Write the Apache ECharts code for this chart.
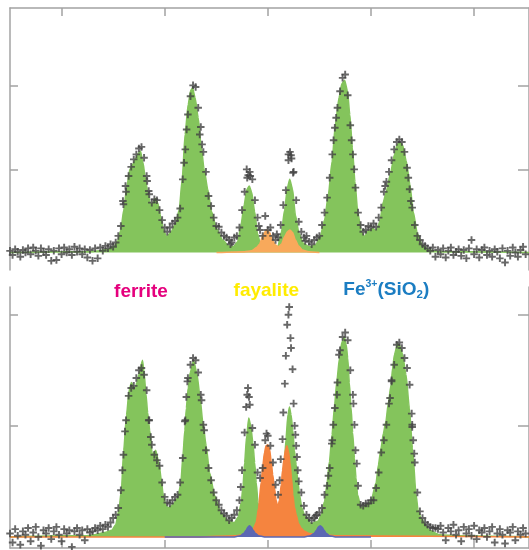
<!DOCTYPE html>
<html><head><meta charset="utf-8">
<script src="https://cdn.jsdelivr.net/npm/echarts@6/dist/echarts.min.js"></script>
<style>html,body{margin:0;padding:0;background:#fff}#c{width:529px;height:550px}</style>
</head><body><div id="c"></div>
<script>
// velocity channel grid (mm/s) of the measured points
const chStart = -10, chStep = 0.1;
const xTicks = [-8, -4, 0, 4, 8];
const yTicks = [1, 2];
const labelTexts = ['ferrite', 'fayalite', 'Fe3+(SiO2)'];

// upper spectrum: measured points (absorption, %)
const topPoints = [
 0.02,-0.03,0.04,0.01,-0.05,0.03,0.00,0.05,-0.02,0.06,
 0.02,-0.04,0.05,0.01,-0.03,0.04,-0.10,0.02,-0.09,0.05,
 -0.02,0.06,0.00,0.04,-0.03,0.07,0.01,0.05,-0.02,0.04,
 -0.06,0.03,-0.10,0.05,-0.07,0.06,0.02,0.08,0.05,0.10,
 0.07,
 0.12,0.20,0.32,0.58,0.73,0.92,1.03,1.12,1.18,1.25,
 1.27,1.14,0.92,0.70,0.60,0.64,0.63,0.51,0.39,0.30,
 0.25,0.30,0.35,0.38,0.42,0.53,0.88,1.24,1.66,1.88,
 2.01,1.99,1.74,1.51,1.21,0.97,0.68,0.56,0.42,0.32,
 0.31,0.24,0.20,0.18,0.15,0.12,0.18,0.20,0.30,0.51,
 0.73,0.90,0.97,0.88,0.63,0.42,0.27,0.20,0.44,0.27,
 0.30,0.20,0.15,0.18,0.33,0.57,0.75,1.11,1.17,0.97,
 0.63,0.37,0.25,0.18,0.20,0.13,0.10,0.15,0.18,0.20,
 0.33,0.48,0.66,0.90,1.18,1.50,1.74,1.94,2.10,2.14,
 1.89,1.53,1.18,0.78,0.48,0.33,0.25,0.27,0.32,0.30,
 0.35,0.31,0.42,0.54,0.73,0.85,0.97,1.11,1.24,1.33,
 1.36,1.33,1.21,1.02,0.76,0.54,0.33,0.20,0.15,0.10,
 0.08,0.05,0.02,0.06,-0.05,0.03,-0.02,0.05,-0.06,0.02,
 0.06,-0.03,0.01,0.04,-0.04,0.03,-0.07,0.05,0.15,-0.02,
 0.04,-0.06,0.03,0.06,-0.03,0.02,-0.05,0.04,0.01,-0.07,
 0.05,-0.12,0.02,-0.04,0.06,0.00,-0.05,0.03,0.07,-0.02
];
const topExtraPoints = [[-5.62,0.62],[-5.52,0.80],[-4.68,0.86],[-4.62,0.74],[-3.25,1.08],[-3.15,1.48],[-2.64,1.42],[-2.55,1.30],[-0.82,1.00],[-0.76,0.93],[-0.68,0.92],[0.80,1.18],[0.86,1.21],[0.92,1.13],[0.98,0.96],[2.55,1.35],[2.65,1.62],[3.25,1.35],[3.35,1.00],[4.55,0.80],[5.45,0.90],[5.55,0.62],[-0.35,0.32],[0.35,0.22],[1.45,0.14],[-1.45,0.10]];
const topFerrite = [[-10.00,0.00],[-8.06,0.01],[-6.90,0.01],[-6.52,0.02],[-6.21,0.04],[-5.97,0.07],[-5.82,0.14],[-5.70,0.27],[-5.59,0.51],[-5.47,0.79],[-5.35,1.00],[-5.24,1.06],[-5.12,1.13],[-5.03,1.19],[-4.94,1.22],[-4.85,1.09],[-4.75,0.90],[-4.66,0.72],[-4.54,0.57],[-4.46,0.60],[-4.37,0.65],[-4.27,0.60],[-4.15,0.42],[-4.04,0.26],[-3.92,0.19],[-3.77,0.24],[-3.57,0.35],[-3.44,0.51],[-3.32,0.88],[-3.21,1.42],[-3.09,1.78],[-2.99,1.95],[-2.92,1.98],[-2.82,1.86],[-2.70,1.62],[-2.59,1.29],[-2.47,1.00],[-2.33,0.76],[-2.18,0.49],[-1.99,0.29],[-1.75,0.15],[-1.52,0.08],[-1.33,0.07],[-1.17,0.13],[-1.04,0.33],[-0.92,0.57],[-0.81,0.76],[-0.72,0.80],[-0.63,0.73],[-0.51,0.49],[-0.40,0.23],[-0.28,0.09],[-0.13,0.05],[0.14,0.05],[0.38,0.06],[0.53,0.25],[0.65,0.51],[0.76,0.78],[0.85,0.88],[0.96,0.76],[1.07,0.45],[1.21,0.23],[1.38,0.11],[1.61,0.07],[1.85,0.09],[2.04,0.20],[2.20,0.39],[2.35,0.70],[2.49,1.09],[2.62,1.54],[2.76,1.86],[2.87,2.03],[2.98,2.07],[3.09,1.94],[3.18,1.66],[3.28,1.26],[3.38,0.85],[3.49,0.48],[3.63,0.25],[3.74,0.19],[3.90,0.26],[4.05,0.29],[4.21,0.26],[4.34,0.37],[4.48,0.61],[4.60,0.74],[4.75,0.94],[4.91,1.18],[5.02,1.30],[5.12,1.33],[5.23,1.29],[5.37,1.10],[5.51,0.82],[5.64,0.49],[5.80,0.23],[5.99,0.09],[6.26,0.03],[6.65,0.01],[7.81,0.01],[10.13,0.00]];
const topFayalite = [[-1.99,0.00],[-0.90,0.01],[-0.63,0.02],[-0.44,0.06],[-0.32,0.10],[-0.21,0.19],[-0.11,0.25],[-0.03,0.27],[0.07,0.24],[0.18,0.15],[0.30,0.09],[0.41,0.07],[0.53,0.10],[0.65,0.19],[0.76,0.25],[0.86,0.27],[0.96,0.24],[1.07,0.15],[1.19,0.08],[1.34,0.03],[1.58,0.01],[2.00,0.00]];

// lower spectrum
const botPoints = [
 0.03,-0.05,0.07,0.01,-0.07,0.05,0.02,0.08,-0.04,0.04,
 0.09,0.00,-0.08,0.06,0.03,0.08,-0.02,0.05,0.09,0.02,
 -0.04,0.07,0.03,0.06,-0.09,0.05,0.08,0.02,0.06,-0.03,
 0.07,0.04,0.05,0.08,0.06,0.10,0.07,0.11,0.09,0.13,
 0.17,
 0.20,0.26,0.42,0.74,1.05,1.27,1.34,1.36,1.43,1.50,
 1.52,1.46,1.32,1.05,0.83,0.74,0.69,0.64,0.49,0.36,
 0.31,0.30,0.33,0.36,0.38,0.49,0.71,1.05,1.43,1.55,
 1.61,1.59,1.48,1.28,1.01,0.78,0.62,0.51,0.40,0.33,
 0.29,0.24,0.21,0.19,0.15,0.17,0.20,0.24,0.33,0.60,
 0.94,1.28,1.19,0.98,0.83,0.58,0.53,0.62,0.87,0.91,
 0.82,0.67,0.47,0.38,0.70,1.12,1.63,2.00,1.70,1.20,
 0.82,0.50,0.40,0.28,0.20,0.17,0.15,0.17,0.20,0.22,
 0.26,0.38,0.46,0.62,0.87,1.16,1.39,1.68,1.80,1.84,
 1.77,1.50,1.28,0.78,0.46,0.29,0.28,0.30,0.30,0.33,
 0.33,0.44,0.58,0.76,0.87,1.01,1.20,1.41,1.55,1.73,
 1.75,1.70,1.61,1.52,1.37,1.01,0.67,0.40,0.23,0.17,
 0.13,0.11,0.09,0.08,0.08,0.07,0.10,0.04,-0.03,0.08,
 0.05,0.11,0.02,0.06,-0.04,0.09,0.03,0.07,0.01,0.10,
 -0.02,0.06,0.04,0.08,0.00,0.05,0.09,-0.05,0.03,0.07,
 0.02,-0.06,0.06,0.04,0.09,-0.03,0.05,0.02,0.08,0.03
];
const botExtraPoints = [[-5.54,0.95],[-5.64,0.60],[-4.62,1.05],[-4.54,0.90],[-3.22,1.04],[-3.16,1.26],[-3.12,1.40],[-2.57,1.23],[-2.47,0.96],[-0.84,1.17],[-0.77,1.34],[-0.73,1.26],[-0.05,0.93],[0.46,0.51],[0.57,0.88],[0.66,1.38],[0.75,1.91],[0.83,2.07],[0.88,1.79],[0.96,1.51],[1.04,1.00],[1.07,0.92],[1.13,0.72],[1.16,0.60],[2.48,0.84],[2.54,1.01],[2.68,1.28],[2.76,1.64],[3.32,1.20],[3.36,1.01],[3.45,0.66],[4.74,1.25],[4.80,1.40],[5.58,1.11],[5.60,0.99],[5.64,0.87],[5.68,0.75],[-1.05,0.45],[1.85,0.19],[2.35,0.55]];
const botFerrite = [[-10.00,0.00],[-8.06,0.01],[-7.10,0.01],[-6.71,0.02],[-6.32,0.04],[-6.05,0.06],[-5.90,0.11],[-5.78,0.24],[-5.68,0.42],[-5.59,0.78],[-5.48,1.10],[-5.38,1.32],[-5.29,1.39],[-5.22,1.36],[-5.16,1.32],[-5.08,1.39],[-4.99,1.47],[-4.86,1.59],[-4.79,1.46],[-4.73,1.29],[-4.66,1.12],[-4.58,0.96],[-4.48,0.74],[-4.35,0.78],[-4.22,0.66],[-4.13,0.51],[-4.06,0.38],[-3.96,0.29],[-3.87,0.26],[-3.69,0.29],[-3.50,0.35],[-3.38,0.47],[-3.29,0.74],[-3.22,0.96],[-3.16,1.16],[-3.09,1.34],[-3.01,1.48],[-2.88,1.59],[-2.75,1.47],[-2.64,1.28],[-2.52,1.03],[-2.39,0.82],[-2.26,0.58],[-2.06,0.37],[-1.81,0.21],[-1.52,0.14],[-1.29,0.13],[-1.15,0.18],[-1.03,0.31],[-0.96,0.47],[-0.90,0.67],[-0.82,0.91],[-0.74,1.07],[-0.67,1.01],[-0.58,0.85],[-0.51,0.67],[-0.45,0.49],[-0.38,0.31],[-0.32,0.20],[-0.22,0.10],[-0.09,0.06],[0.26,0.05],[0.34,0.07],[0.45,0.17],[0.55,0.35],[0.63,0.60],[0.70,0.87],[0.78,1.10],[0.84,1.17],[0.90,1.10],[0.97,0.96],[1.03,0.78],[1.10,0.65],[1.17,0.49],[1.23,0.38],[1.32,0.26],[1.42,0.20],[1.68,0.12],[1.94,0.14],[2.08,0.20],[2.20,0.32],[2.29,0.47],[2.39,0.68],[2.49,0.92],[2.58,1.16],[2.68,1.41],[2.78,1.61],[2.87,1.75],[2.97,1.80],[3.04,1.73],[3.10,1.61],[3.16,1.39],[3.23,1.16],[3.29,0.94],[3.36,0.71],[3.42,0.53],[3.48,0.38],[3.62,0.26],[3.81,0.29],[4.00,0.32],[4.20,0.49],[4.29,0.65],[4.39,0.80],[4.48,0.93],[4.58,1.04],[4.67,1.20],[4.78,1.37],[4.84,1.52],[4.91,1.64],[5.03,1.74],[5.12,1.72],[5.23,1.64],[5.36,1.46],[5.49,1.16],[5.61,0.80],[5.75,0.38],[5.83,0.24],[5.94,0.17],[6.11,0.11],[6.26,0.06],[6.65,0.02],[7.42,0.01],[10.13,0.00]];
const botFayalite = [[-10.00,0.00],[-2.64,0.00],[-1.29,0.01],[-0.90,0.02],[-0.71,0.04],[-0.58,0.06],[-0.45,0.13],[-0.36,0.26],[-0.26,0.49],[-0.19,0.65],[-0.13,0.76],[-0.07,0.82],[0.00,0.83],[0.07,0.79],[0.13,0.68],[0.19,0.56],[0.26,0.44],[0.32,0.33],[0.39,0.27],[0.45,0.33],[0.52,0.47],[0.57,0.60],[0.63,0.71],[0.69,0.79],[0.74,0.82],[0.80,0.77],[0.86,0.67],[0.92,0.53],[0.97,0.38],[1.03,0.27],[1.10,0.20],[1.19,0.12],[1.29,0.08],[1.42,0.05],[1.61,0.03],[2.00,0.02],[2.77,0.01],[10.13,0.00]];
const botFe3 = [[-4.00,0.00],[-1.29,0.00],[-1.06,0.01],[-0.94,0.03],[-0.84,0.06],[-0.77,0.09],[-0.71,0.10],[-0.65,0.09],[-0.57,0.06],[-0.48,0.03],[-0.36,0.01],[-0.13,0.00],[1.42,0.00],[1.65,0.01],[1.79,0.03],[1.89,0.06],[1.96,0.09],[2.03,0.10],[2.10,0.09],[2.18,0.06],[2.27,0.03],[2.39,0.01],[2.62,0.00],[4.00,0.00]];

const GREEN = '#84c45c', ORANGE_L = '#f8a95b', ORANGE = '#f5843f', BLUE = '#5b67b3', PT = '#424242', AX = '#a3a3a3';
const PLUS = 'path://M2.6,0H4.4V2.6H7V4.4H4.4V7H2.6V4.4H0V2.6H2.6Z';

function toPts(arr, extra) {
  const out = arr.map((u, i) => [Math.round((chStart + i * chStep) * 100) / 100, u]);
  return out.concat(extra);
}
function xAx(grid, pos) {
  return { gridIndex: grid, type: 'value', position: pos, min: -10, max: 10.13,
    axisLine: { show: true, onZero: false, lineStyle: { color: AX, width: 1.5 } },
    axisTick: { show: true, inside: true, length: 8, customValues: xTicks, lineStyle: { color: AX, width: 1.5 } },
    axisLabel: { show: false }, splitLine: { show: false } };
}
function yAx(grid, pos, mn, mx, len) {
  return { gridIndex: grid, type: 'value', position: pos, min: mn, max: mx,
    axisLine: { show: true, onZero: false, lineStyle: { color: AX, width: 1.5 } },
    axisTick: { show: true, inside: true, length: len, customValues: yTicks, lineStyle: { color: AX, width: 1.5 } },
    axisLabel: { show: false }, splitLine: { show: false } };
}
function area(data, xi, yi, color, z) {
  return { type: 'line', xAxisIndex: xi, yAxisIndex: yi, data: data, showSymbol: false, smooth: 0.2, z: z,
    smoothMonotone: 'x', lineStyle: { color: color, width: 1.5 }, areaStyle: { color: color, opacity: 1 }, silent: true };
}
function pts(data, xi, yi) {
  return { type: 'scatter', xAxisIndex: xi, yAxisIndex: yi, data: data, symbol: PLUS, symbolSize: 7.5, z: 6,
    itemStyle: { color: PT }, silent: true };
}
const FONT = '"Liberation Sans", Arial, Helvetica, sans-serif';
const chart = echarts.init(document.getElementById('c'));
chart.setOption({
  animation: false,
  grid: [
    { left: 10, top: 8, width: 520, height: 262 },
    { left: 10, top: 287, width: 520, height: 261 }
  ],
  xAxis: [xAx(0, 'top'), xAx(1, 'bottom')],
  yAxis: [yAx(0, 'left', -0.21, 2.94, 8), yAx(0, 'right', -0.21, 2.94, 11),
          yAx(1, 'left', -0.10, 2.25, 8), yAx(1, 'right', -0.10, 2.25, 11)],
  series: [
    area(topFerrite, 0, 0, GREEN, 2),
    area(topFayalite, 0, 0, ORANGE_L, 3),
    pts(toPts(topPoints, topExtraPoints), 0, 0),
    area(botFerrite, 1, 2, GREEN, 2),
    area(botFayalite, 1, 2, ORANGE, 3),
    area(botFe3, 1, 2, BLUE, 4),
    pts(toPts(botPoints, botExtraPoints), 1, 2)
  ],
  graphic: [
    { type: 'text', x: 141, y: 291.7, z: 10, style: { text: labelTexts[0], fill: '#e5007d', font: 'bold 19px ' + FONT, align: 'center', verticalAlign: 'middle' } },
    { type: 'text', x: 266.3, y: 290.4, z: 10, style: { text: labelTexts[1], fill: '#ffec00', font: 'bold 19px ' + FONT, align: 'center', verticalAlign: 'middle' } },
    { type: 'text', x: 386.3, y: 290, z: 10, style: {
        text: '{n|Fe}{sup|3+}{n|(SiO}{sub|2}{n|)}', align: 'center', verticalAlign: 'middle',
        rich: {
          n: { fontSize: 19, fontWeight: 'bold', fontFamily: FONT, fill: '#1b7dc2', lineHeight: 22 },
          sup: { fontSize: 10.5, fontWeight: 'bold', fontFamily: FONT, fill: '#1b7dc2', lineHeight: 16, verticalAlign: 'top' },
          sub: { fontSize: 11.5, fontWeight: 'bold', fontFamily: FONT, fill: '#1b7dc2', lineHeight: 10, verticalAlign: 'bottom' }
        } } }
  ]
});
</script></body></html>
